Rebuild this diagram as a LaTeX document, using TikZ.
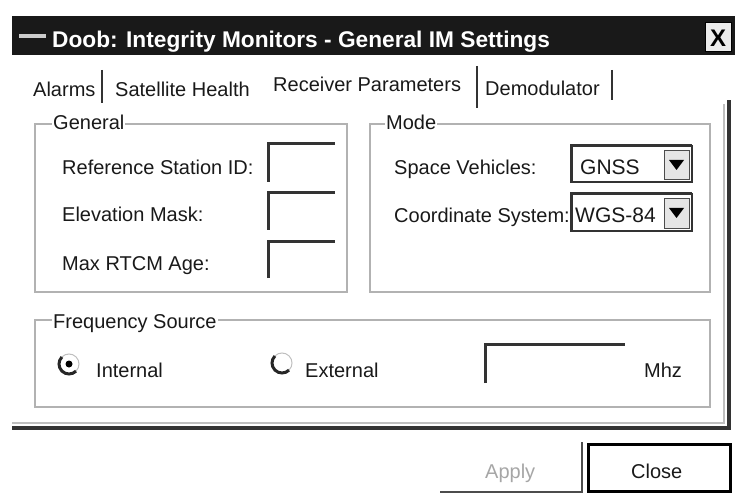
\documentclass[tikz,border=0pt]{standalone}
\usepackage{fontspec}
\setmainfont{Liberation Sans}

\tikzstyle{uitext} = [anchor=base west, inner sep=0pt, text=black!90, font=\fontsize{20}{24}\selectfont]
\tikzstyle{grouptitle} = [uitext, fill=white, inner xsep=1pt, inner ysep=2pt]
\tikzstyle{groupframe} = [draw=gray!60, line width=1.6pt]
\tikzstyle{sunken} = [draw=black!80, line width=3pt]
\tikzstyle{tabsep} = [draw=black!80, line width=2.5pt]

\begin{document}
\begin{tikzpicture}[x=1pt,y=-1pt]
		\useasboundingbox (0,0) rectangle (735,502);
		% title bar
		\fill[black!90] (12,16) rectangle (735,55);
		\draw[gray!40, line width=3.5pt] (19,36) -- (46,36);
		\node[uitext, text=white, font=\fontsize{22.7}{26}\selectfont\bfseries] (title) at (52,48) {Doob: Integrity Monitors - General IM Settings};
		\draw[black, fill=gray!15, line width=1pt] (705,23) rectangle (731,52);
		\node[inner sep=0pt, font=\fontsize{24}{26}\selectfont\bfseries] (closex) at (718,38) {X};
		
		% tabs
		\node[uitext] (tabalarms) at (33,97) {Alarms};
		\node[uitext] (tabhealth) at (115,97) {Satellite Health};
		\node[uitext] (tabreceiver) at (273,92) {Receiver Parameters};
		\node[uitext] (tabdemod) at (485,96) {Demodulator};
		\draw[tabsep] (102,70) -- (102,103);
		\draw[tabsep] (477,66) -- (477,108);
		\draw[tabsep] (612,70) -- (612,100);
		
		% tab panel edges
		\draw[draw=black!80, line width=3.5pt] (12,428) -- (729,428) -- (729,100);
		\draw[draw=gray!50, line width=1.2pt] (12,423) -- (724,423) -- (724,104);
		
		% group: general
		\draw[groupframe] (35,124) rectangle (347,292);
		\node[grouptitle] (general) at (52,130) {General};
		\node[uitext] (refid) at (62,175) {Reference Station ID:};
		\node[uitext] (elevmask) at (62,222) {Elevation Mask:};
		\node[uitext] (rtcmage) at (62,271) {Max RTCM Age:};
		\draw[sunken] (268,182) -- (268,144) -- (335,144);
		\draw[sunken] (268,230) -- (268,193) -- (335,193);
		\draw[sunken] (268,278) -- (268,242) -- (335,242);
		
		% group: mode
		\draw[groupframe] (370,124) rectangle (710,292);
		\node[grouptitle] (mode) at (385,130) {Mode};
		\node[uitext] (vehicles) at (394,175) {Space Vehicles:};
		\node[uitext] (coordsys) at (394,223) {Coordinate System:};
		\draw[sunken, line width=2pt] (571,146) rectangle (692,182);
		\draw[sunken] (571,182) -- (571,146) -- (692,146);
		\node[uitext, font=\fontsize{21}{24}\selectfont] (gnss) at (580,175) {GNSS};
		\draw[black!70, fill=gray!20] (664,150) rectangle (689,179);
		\fill[black] (669,160) -- (684,160) -- (676.5,170) -- cycle;
		\draw[sunken, line width=2pt] (571,194) rectangle (692,231);
		\draw[sunken] (571,231) -- (571,194) -- (692,194);
		\node[uitext, font=\fontsize{21}{24}\selectfont] (wgs) at (575,223) {WGS-84};
		\draw[black!70, fill=gray!20] (664,198) rectangle (689,228);
		\fill[black] (669,208) -- (684,208) -- (676.5,218) -- cycle;
		
		% group: frequency source
		\draw[groupframe] (35,320) rectangle (710,407);
		\node[grouptitle] (freqsrc) at (52,328) {Frequency Source};
		\draw[black!85, line width=3pt] (69,364) ++(225:10) arc (225:45:10);
		\draw[gray!50, line width=1pt] (69,364) ++(45:10) arc (45:-135:10);
		\fill[black] (69,364) circle (3.5);
		\node[uitext] (internal) at (96,377) {Internal};
		\draw[black!85, line width=3pt] (282,363) ++(225:10) arc (225:45:10);
		\draw[gray!50, line width=1pt] (282,363) ++(45:10) arc (45:-135:10);
		\node[uitext] (external) at (305,377) {External};
		\draw[sunken] (485,383) -- (485,344) -- (625,344);
		\node[uitext] (mhz) at (644,377) {Mhz};
		
		% buttons
		\draw[draw=black!70, line width=2.5pt] (440,492) -- (582,492) -- (582,442);
		\node[uitext, text=gray!70] (apply) at (485,478) {Apply};
		\draw[draw=black, line width=3pt] (588,444) rectangle (730,491);
		\node[uitext] (close) at (631,478) {Close};
		\end{tikzpicture}
\end{document}
